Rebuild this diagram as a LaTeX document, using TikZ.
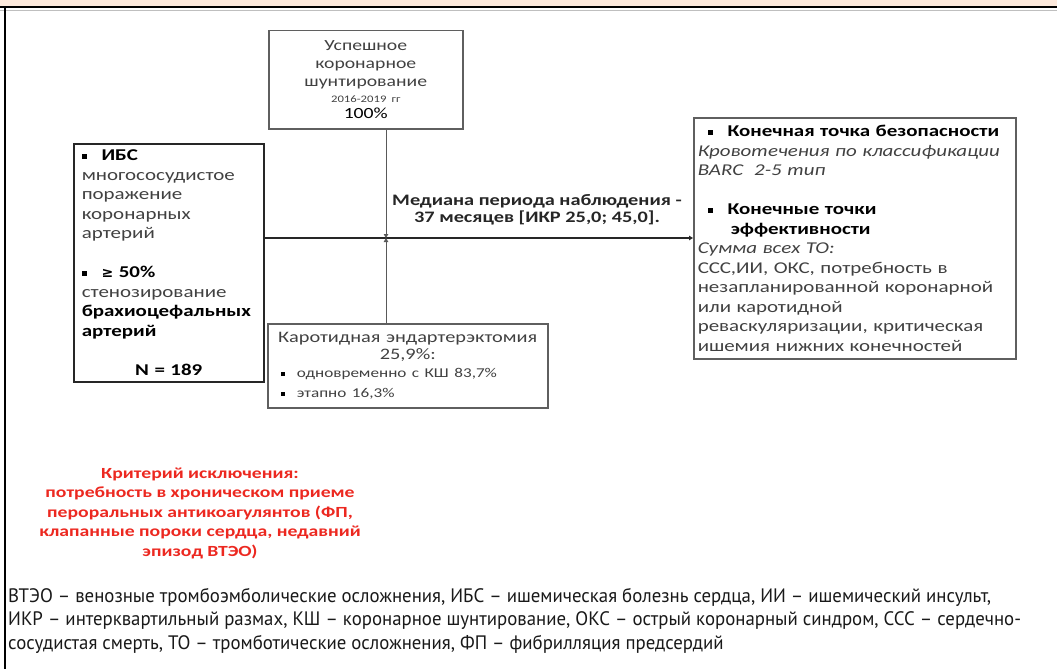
\documentclass[tikz,border=0pt]{standalone}
\usepackage{fontspec}
\setmainfont{Carlito}[FakeStretch=1.27]
\newfontfamily\legendenfont[FakeStretch=0.965]{PT Sans}
\newfontfamily\zeichenfont{DejaVu Sans}
\usetikzlibrary{arrows.meta}

\definecolor{kopf}{RGB}{253,233,220}
\definecolor{textgrau}{RGB}{65,65,65}
\definecolor{rahmen}{RGB}{95,95,95}
\definecolor{kritrot}{RGB}{236,40,32}

% kleiner quadratischer Aufzaehlungspunkt
\newcommand{\punkt}{\textcolor{black}{\rule[0.25ex]{0.3em}{0.3em}}\hspace{0.9em}}

\begin{document}
\begin{tikzpicture}[x=1pt, y=-1pt,
    kasten/.style={draw=rahmen, line width=1.5pt, anchor=north west, inner sep=0pt,
                   text=textgrau, font=\fontsize{16.5}{19.5}\selectfont},
    pfeil/.style={-{Triangle[length=4pt, width=4.5pt]}, line width=1.2pt, black!85}]

    % --- Rahmen ---
    \useasboundingbox (0,0) rectangle (1057,669);
    \fill[kopf] (0,0) rectangle (1057,7);
    \draw[line width=2pt] (0,7.5) -- (1057,7.5);
    \draw[gray!50, line width=0.6pt] (0,10) -- (1057,10);
    \draw[line width=1.5pt] (5,7.5) -- (5,669);

    % --- Kaesten ---
    % Operation
    \node[kasten, minimum width=194pt, minimum height=98pt, text width=194pt, align=center,
          font=\fontsize{15.5}{18}\selectfont] (kshunt) at (268,30)
        {Успешное\\ коронарное\\ шунтирование\\[-2pt]
         {\fontsize{10}{12}\selectfont 2016-2019 гг}\\[-2pt]
         {\color{black}100\%}};

    % Patienten
    \node[kasten, draw=black!85, minimum width=190pt, minimum height=238pt, text width=174pt,
          inner xsep=8pt, align=left] (ibs) at (73,143)
        {\punkt\textbf{\color{black}ИБС}\\
         многососудистое\\ поражение\\ коронарных\\ артерий\\[19.5pt]
         \punkt\textbf{\color{black}{\zeichenfont\fontsize{14}{19.5}\selectfont ≥} 50\%}\\
         стенозирование\\
         \textbf{\color{black}брахиоцефальных}\\
         \textbf{\color{black}артерий}\\[19.5pt]
         \makebox[\linewidth]{\textbf{\color{black}N = 189}}};

    % Endpunkte
    \node[kasten, minimum width=322pt, minimum height=241pt, text width=314pt,
          inner xsep=4pt, align=left] (endpunkt) at (693,117)
        {\hspace*{10pt}\punkt\textbf{\color{black}Конечная точка безопасности}\\
         \textit{Кровотечения по классификации}\\
         \textit{BARC\ \ 2-5 тип}\\[19.5pt]
         \hspace*{10pt}\punkt\textbf{\color{black}Конечные точки}\\
         \hspace*{33pt}\textbf{\color{black}эффективности}\\
         \textit{Сумма всех ТО:}\\
         ССС,ИИ, ОКС, потребность в\\
         незапланированной коронарной\\
         или каротидной\\
         реваскуляризации, критическая\\
         ишемия нижних конечностей};

    % Endarteriektomie
    \node[kasten, minimum width=280pt, minimum height=84pt, text width=270pt,
          inner xsep=5pt, align=left] (kea) at (267,323)
        {\makebox[\linewidth]{\fontsize{16}{16}\selectfont Каротидная эндартерэктомия}\\[-3pt]
         \makebox[\linewidth]{\fontsize{16}{16}\selectfont 25,9\%:}\\[-1pt]
         {\fontsize{13.5}{18}\selectfont\hspace*{8pt}\punkt одновременно с КШ 83,7\%}\\
         {\fontsize{13.5}{18}\selectfont\hspace*{8pt}\punkt этапно 16,3\%}};

    % --- Verbindungen ---
    \coordinate (kreuz) at (386,238);
    \draw[pfeil] (ibs.east |- kreuz) -- (endpunkt.west |- kreuz);
    \draw[pfeil, line width=1pt, draw=gray!70!black] (kshunt.south -| kreuz) -- (kreuz);
    \draw[pfeil, line width=1pt, draw=gray!70!black] (kea.north -| kreuz) -- (kreuz);

    % Beschriftung Beobachtungszeit
    \node[align=center, text=black!85, font=\bfseries\fontsize{16}{17}\selectfont] (median) at (537,210)
        {Медиана периода наблюдения -\\ 37 месяцев [ИКР 25,0; 45,0].};

    % --- Ausschlusskriterium ---
    \node[align=center, text=kritrot, font=\bfseries\fontsize{15.5}{19.5}\selectfont] (kriterium) at (200,513)
        {Критерий исключения:\\
         потребность в хроническом приеме\\
         пероральных антикоагулянтов (ФП,\\
         клапанные пороки сердца, недавний\\
         эпизод ВТЭО)};

    % --- Abkuerzungen ---
    \node[anchor=west, align=left, inner sep=0pt, text=black!90,
          font=\legendenfont\fontsize{19.5}{23.5}\selectfont] (legende) at (8,620.5)
        {ВТЭО – венозные тромбоэмболические осложнения, ИБС – ишемическая болезнь сердца, ИИ – ишемический инсульт,\\
         ИКР – интерквартильный размах, КШ – коронарное шунтирование, ОКС – острый коронарный синдром, ССС – сердечно-\\
         сосудистая смерть, ТО – тромботические осложнения, ФП – фибрилляция предсердий};
\end{tikzpicture}
\end{document}
